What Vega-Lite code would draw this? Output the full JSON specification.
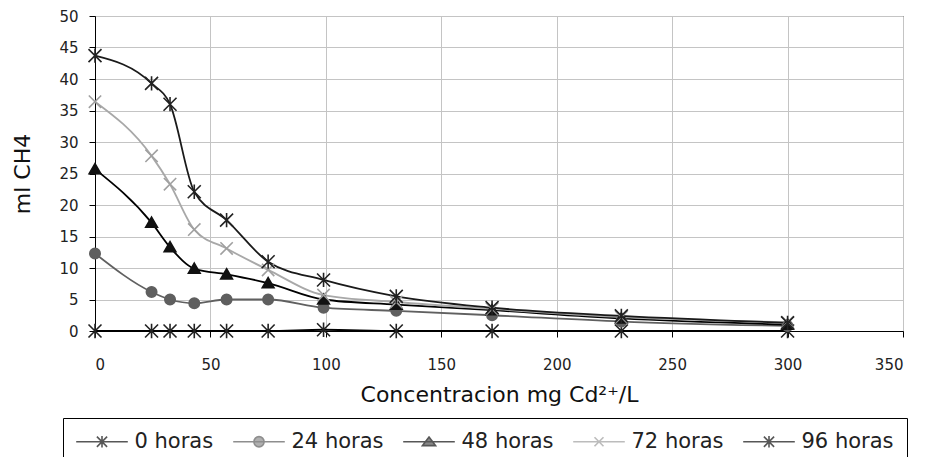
{
  "$schema": "https://vega.github.io/schema/vega-lite/v6.json",
  "width": 808,
  "height": 315,
  "autosize": "none",
  "padding": {"left": 95, "top": 16, "right": 24, "bottom": 126},
  "background": "white",
  "config": {
    "view": {"stroke": "black", "strokeWidth": 1},
    "font": "DejaVu Sans",
    "axis": {
      "labelFont": "DejaVu Sans",
      "titleFont": "DejaVu Sans",
      "labelColor": "#222",
      "titleColor": "#111",
      "titleFontWeight": "normal",
      "domainColor": "black",
      "tickColor": "black",
      "gridColor": "#c4c4c4",
      "gridWidth": 1,
      "tickSize": 6,
      "labelFontSize": 15,
      "labelOverlap": false
    }
  },
  "datasets": {
    "d": [
      {"s": "0 horas", "c": 0, "v": 0},
      {"s": "0 horas", "c": 24.5, "v": 0},
      {"s": "0 horas", "c": 32.5, "v": 0},
      {"s": "0 horas", "c": 43, "v": 0},
      {"s": "0 horas", "c": 57, "v": 0},
      {"s": "0 horas", "c": 75, "v": 0},
      {"s": "0 horas", "c": 99, "v": 0.2},
      {"s": "0 horas", "c": 130.5, "v": 0},
      {"s": "0 horas", "c": 172, "v": 0},
      {"s": "0 horas", "c": 228, "v": 0},
      {"s": "0 horas", "c": 300, "v": 0},
      {"s": "24 horas", "c": 0, "v": 12.3},
      {"s": "24 horas", "c": 24.5, "v": 6.2},
      {"s": "24 horas", "c": 32.5, "v": 5.0},
      {"s": "24 horas", "c": 43, "v": 4.4},
      {"s": "24 horas", "c": 57, "v": 5.0},
      {"s": "24 horas", "c": 75, "v": 5.0},
      {"s": "24 horas", "c": 99, "v": 3.7},
      {"s": "24 horas", "c": 130.5, "v": 3.2},
      {"s": "24 horas", "c": 172, "v": 2.5},
      {"s": "24 horas", "c": 228, "v": 1.5},
      {"s": "24 horas", "c": 300, "v": 0.8},
      {"s": "48 horas", "c": 0, "v": 25.7},
      {"s": "48 horas", "c": 24.5, "v": 17.2},
      {"s": "48 horas", "c": 32.5, "v": 13.3},
      {"s": "48 horas", "c": 43, "v": 9.9},
      {"s": "48 horas", "c": 57, "v": 9.0},
      {"s": "48 horas", "c": 75, "v": 7.6},
      {"s": "48 horas", "c": 99, "v": 5.0},
      {"s": "48 horas", "c": 130.5, "v": 4.2},
      {"s": "48 horas", "c": 172, "v": 3.3},
      {"s": "48 horas", "c": 228, "v": 2.0},
      {"s": "48 horas", "c": 300, "v": 1.0},
      {"s": "72 horas", "c": 0, "v": 36.4},
      {"s": "72 horas", "c": 24.5, "v": 27.8},
      {"s": "72 horas", "c": 32.5, "v": 23.3},
      {"s": "72 horas", "c": 43, "v": 16.1},
      {"s": "72 horas", "c": 57, "v": 13.1},
      {"s": "72 horas", "c": 75, "v": 9.7},
      {"s": "72 horas", "c": 99, "v": 5.7},
      {"s": "72 horas", "c": 130.5, "v": 4.6},
      {"s": "72 horas", "c": 172, "v": 3.5},
      {"s": "72 horas", "c": 228, "v": 2.2},
      {"s": "72 horas", "c": 300, "v": 1.4},
      {"s": "96 horas", "c": 0, "v": 43.7},
      {"s": "96 horas", "c": 24.5, "v": 39.3},
      {"s": "96 horas", "c": 32.5, "v": 36.0},
      {"s": "96 horas", "c": 43, "v": 22.1},
      {"s": "96 horas", "c": 57, "v": 17.6},
      {"s": "96 horas", "c": 75, "v": 11.0},
      {"s": "96 horas", "c": 99, "v": 8.1},
      {"s": "96 horas", "c": 130.5, "v": 5.5},
      {"s": "96 horas", "c": 172, "v": 3.7},
      {"s": "96 horas", "c": 228, "v": 2.4},
      {"s": "96 horas", "c": 300, "v": 1.3}
    ],
    "ley": [
      {"s": "0 horas"},
      {"s": "24 horas"},
      {"s": "48 horas"},
      {"s": "72 horas"},
      {"s": "96 horas"}
    ]
  },
  "layer": [
    {
      "data": {"name": "d"},
      "mark": {"type": "line", "interpolate": "monotone", "strokeWidth": 1.8},
      "encoding": {
        "x": {
          "field": "c", "type": "quantitative",
          "scale": {"domain": [0, 350], "nice": false, "zero": true},
          "axis": {
            "values": [0, 50, 100, 150, 200, 250, 300, 350],
            "title": "Concentracion mg Cd²⁺/L",
            "titleFontSize": 22,
            "labelPadding": 20,
            "titlePadding": 12,
            "grid": true
          }
        },
        "y": {
          "field": "v", "type": "quantitative",
          "scale": {"domain": [0, 50], "nice": false},
          "axis": {
            "values": [0, 5, 10, 15, 20, 25, 30, 35, 40, 45, 50],
            "title": "ml CH4",
            "titleFontSize": 22,
            "labelPadding": 11,
            "titlePadding": 24,
            "grid": true
          }
        },
        "stroke": {
          "field": "s", "type": "nominal", "legend": null,
          "scale": {
            "domain": ["0 horas", "24 horas", "48 horas", "72 horas", "96 horas"],
            "range": ["#000000", "#606060", "#000000", "#a8a8a8", "#1a1a1a"]
          }
        },
        "detail": {"field": "s"}
      }
    },
    {
      "data": {"name": "d"},
      "mark": {"type": "point", "filled": true, "size": 169, "strokeWidth": 1.6, "opacity": 1},
      "encoding": {
        "x": {
          "field": "c", "type": "quantitative",
          "axis": {
            "values": [0, 50, 100, 150, 200, 250, 300, 350],
            "title": "Concentracion mg Cd²⁺/L",
            "titleFontSize": 22,
            "labelPadding": 20,
            "titlePadding": 12,
            "grid": true
          }
        },
        "y": {
          "field": "v", "type": "quantitative",
          "axis": {
            "values": [0, 5, 10, 15, 20, 25, 30, 35, 40, 45, 50],
            "title": "ml CH4",
            "titleFontSize": 22,
            "labelPadding": 11,
            "titlePadding": 24,
            "grid": true
          }
        },
        "shape": {
          "field": "s", "type": "nominal", "legend": null,
          "scale": {
            "domain": ["0 horas", "24 horas", "48 horas", "72 horas", "96 horas"],
            "range": [
              "M-1,-1L1,1M-1,1L1,-1M0,-1.1L0,1.1",
              "M0.8,0A0.8,0.8,0,1,1,-0.8,0A0.8,0.8,0,1,1,0.8,0Z",
              "M0,-0.85L0.9,0.7L-0.9,0.7Z",
              "M-0.95,-0.95L0.95,0.95M-0.95,0.95L0.95,-0.95",
              "M-1,-1L1,1M-1,1L1,-1M0,-1.1L0,1.1"
            ]
          }
        },
        "fill": {
          "field": "s", "type": "nominal", "legend": null,
          "scale": {
            "domain": ["0 horas", "24 horas", "48 horas", "72 horas", "96 horas"],
            "range": ["#222222", "#5f5f5f", "#111111", "#a0a0a0", "#222222"]
          }
        },
        "stroke": {
          "field": "s", "type": "nominal", "legend": null,
          "scale": {
            "domain": ["0 horas", "24 horas", "48 horas", "72 horas", "96 horas"],
            "range": ["#222222", "#5f5f5f", "#111111", "#a0a0a0", "#222222"]
          }
        }
      }
    },
    {
      "data": {"name": "ley"},
      "mark": {"type": "point", "filled": true, "size": 0, "strokeWidth": 1.6},
      "encoding": {
        "shape": {
          "field": "s", "type": "nominal",
          "scale": {
            "domain": ["0 horas", "24 horas", "48 horas", "72 horas", "96 horas"],
            "range": [
              "M-4.3,0H4.3M-0.85,-0.85L0.85,0.85M-0.85,0.85L0.85,-0.85M0,-0.95L0,0.95",
              "M-4.3,0H4.3M0.85,0A0.85,0.85,0,1,1,-0.85,0A0.85,0.85,0,1,1,0.85,0Z",
              "M-4.3,0H4.3M0,-0.8L1.1,0.65L-1.1,0.65Z",
              "M-4.3,0H4.3M-0.75,-0.75L0.75,0.75M-0.75,0.75L0.75,-0.75",
              "M-4.3,0H4.3M-0.85,-0.85L0.85,0.85M-0.85,0.85L0.85,-0.85M0,-0.95L0,0.95"
            ]
          },
          "legend": {
            "title": null, "orient": "none", "legendX": -32, "legendY": 402,
            "direction": "horizontal", "columns": 5,
            "strokeColor": "black", "padding": 13, "columnPadding": 16,
            "symbolSize": 144, "symbolStrokeWidth": 1.6,
            "symbolOffset": 15.5, "labelOffset": 22,
            "labelFont": "DejaVu Sans", "labelFontSize": 21, "labelColor": "#222",
            "labelLimit": 400
          }
        },
        "fill": {
          "field": "s", "type": "nominal",
          "scale": {
            "domain": ["0 horas", "24 horas", "48 horas", "72 horas", "96 horas"],
            "range": ["#111111", "#5f5f5f", "#111111", "#a0a0a0", "#111111"]
          },
          "legend": {
            "title": null, "orient": "none", "legendX": -32, "legendY": 402,
            "direction": "horizontal", "columns": 5,
            "strokeColor": "black", "padding": 13, "columnPadding": 16,
            "symbolSize": 144, "symbolStrokeWidth": 1.6,
            "symbolOffset": 15.5, "labelOffset": 22,
            "labelFont": "DejaVu Sans", "labelFontSize": 21, "labelColor": "#222",
            "labelLimit": 400
          }
        },
        "stroke": {
          "field": "s", "type": "nominal",
          "scale": {
            "domain": ["0 horas", "24 horas", "48 horas", "72 horas", "96 horas"],
            "range": ["#111111", "#5f5f5f", "#111111", "#a0a0a0", "#111111"]
          },
          "legend": {
            "title": null, "orient": "none", "legendX": -32, "legendY": 402,
            "direction": "horizontal", "columns": 5,
            "strokeColor": "black", "padding": 13, "columnPadding": 16,
            "symbolSize": 144, "symbolStrokeWidth": 1.6,
            "symbolOffset": 15.5, "labelOffset": 22,
            "labelFont": "DejaVu Sans", "labelFontSize": 21, "labelColor": "#222",
            "labelLimit": 400
          }
        }
      }
    }
  ],
  "resolve": {
    "scale": {"shape": "independent", "fill": "independent", "stroke": "independent"}
  }
}
